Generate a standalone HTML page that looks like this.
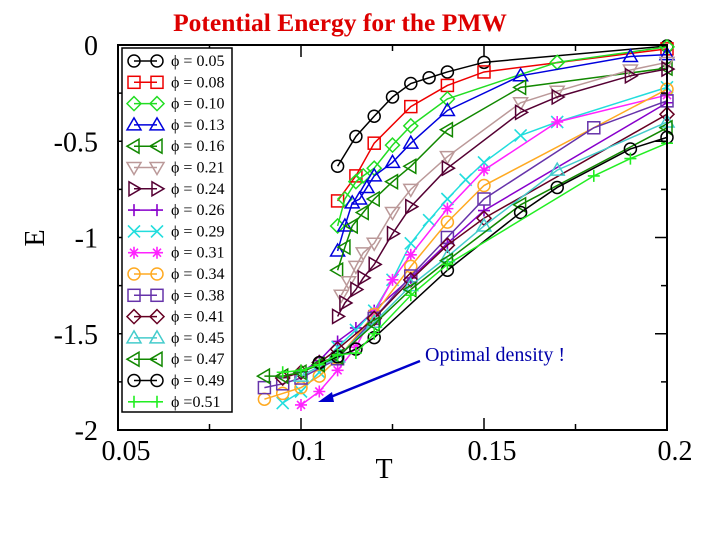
<!DOCTYPE html>
<html><head><meta charset="utf-8"><style>
body{margin:0;background:#fff;}
svg{display:block;font-family:"Liberation Serif",serif;}
</style></head><body>
<svg id="c" width="720" height="540" viewBox="0 0 720 540"></svg>
<script>
const phis=["0.05","0.08","0.10","0.13","0.16","0.21","0.24","0.26","0.29","0.31","0.34","0.38","0.41","0.45","0.47","0.49","=0.51"];
const colors=["#000","#e00","#2d2","#00d","#180","#b99","#503","#80c","#2dd","#f2f","#fa2","#63a","#602","#4cc","#180","#000","#2e2"];
const markers=["circle","square","diamond","tri-up","tri-left","tri-down","tri-right","plus","x","star","circle","square","diamond","tri-up","tri-left","circle","plus"];
const seriesT=[
[0.11,0.115,0.12,0.125,0.13,0.135,0.14,0.15,0.2],
[0.11,0.115,0.12,0.13,0.14,0.15,0.2],
[0.11,0.112,0.115,0.117,0.12,0.125,0.13,0.14,0.17,0.2],
[0.11,0.112,0.114,0.116,0.118,0.12,0.125,0.13,0.14,0.16,0.19,0.2],
[0.11,0.112,0.114,0.117,0.12,0.125,0.13,0.14,0.16,0.2],
[0.111,0.113,0.115,0.117,0.12,0.125,0.13,0.14,0.16,0.17,0.19,0.2],
[0.11,0.112,0.115,0.117,0.12,0.125,0.13,0.14,0.16,0.17,0.19,0.2],
[0.1,0.105,0.11,0.115,0.12,0.13,0.14,0.15,0.2],
[0.095,0.1,0.105,0.11,0.115,0.12,0.125,0.13,0.135,0.14,0.145,0.15,0.16,0.17,0.2],
[0.1,0.105,0.11,0.115,0.12,0.125,0.13,0.14,0.15,0.17,0.2],
[0.09,0.095,0.1,0.105,0.11,0.12,0.13,0.14,0.15,0.2],
[0.09,0.095,0.1,0.11,0.12,0.13,0.14,0.15,0.18,0.2],
[0.095,0.1,0.105,0.11,0.12,0.13,0.14,0.15,0.2],
[0.1,0.11,0.12,0.13,0.14,0.15,0.17,0.2],
[0.09,0.095,0.1,0.105,0.11,0.12,0.13,0.14,0.16,0.2],
[0.105,0.11,0.115,0.12,0.14,0.16,0.17,0.19,0.2],
[0.095,0.1,0.105,0.11,0.115,0.12,0.13,0.14,0.18,0.19,0.2]];
const seriesE=[
[-0.63,-0.475,-0.37,-0.27,-0.2,-0.17,-0.14,-0.09,-0.005],
[-0.81,-0.68,-0.51,-0.32,-0.21,-0.14,-0.02],
[-0.94,-0.80,-0.71,-0.68,-0.64,-0.52,-0.42,-0.28,-0.09,-0.01],
[-1.07,-0.94,-0.82,-0.80,-0.74,-0.68,-0.61,-0.51,-0.34,-0.16,-0.06,-0.05],
[-1.17,-1.05,-0.94,-0.87,-0.80,-0.71,-0.63,-0.44,-0.22,-0.12,-0.12,-0.11],
[-1.30,-1.23,-1.15,-1.08,-1.03,-0.87,-0.75,-0.58,-0.30,-0.24,-0.13,-0.09],
[-1.41,-1.34,-1.27,-1.21,-1.14,-0.98,-0.84,-0.64,-0.35,-0.27,-0.16,-0.125],
[-1.70,-1.64,-1.54,-1.47,-1.38,-1.21,-1.03,-0.86,-0.30],
[-1.86,-1.80,-1.70,-1.57,-1.48,-1.38,-1.22,-1.03,-0.91,-0.80,-0.70,-0.61,-0.47,-0.40,-0.22],
[-1.87,-1.80,-1.69,-1.57,-1.39,-1.22,-1.09,-0.85,-0.65,-0.40,-0.26],
[-1.84,-1.81,-1.78,-1.72,-1.63,-1.40,-1.15,-0.92,-0.73,-0.23],
[-1.78,-1.76,-1.73,-1.63,-1.42,-1.20,-1.0,-0.80,-0.43,-0.29],
[-1.73,-1.70,-1.65,-1.58,-1.42,-1.22,-1.04,-0.90,-0.36],
[-1.72,-1.62,-1.44,-1.25,-1.10,-0.94,-0.65,-0.40],
[-1.72,-1.72,-1.70,-1.66,-1.62,-1.45,-1.27,-1.12,-0.83,-0.43],
[-1.65,-1.62,-1.58,-1.52,-1.17,-0.87,-0.74,-0.54,-0.48],
[-1.70,-1.69,-1.66,-1.61,-1.60,-1.50,-1.30,-1.14,-0.68,-0.59,-0.51]];
const xTicks=[0.05,0.1,0.15,0.2];
const xTickLabels=["0.05","0.1","0.15","0.2"];
const yTicks=[0,-0.5,-1,-1.5,-2];
const yTickLabels=["0","-0.5","-1","-1.5","-2"];

const L=118,R=667,T0=45,B=430;
const X=t=>L+(t-0.05)/0.15*(R-L);
const Y=e=>T0+(0-e)/2*(B-T0);
const svg=document.getElementById('c');
const NS='http://www.w3.org/2000/svg';
function mk(tag,attrs,parent){const el=document.createElementNS(NS,tag);for(const k in attrs)el.setAttribute(k,attrs[k]);(parent||svg).appendChild(el);return el;}

function marker(g,type,x,y,col){
  const s=6;let el;
  const p=pts=>mk('polygon',{points:pts.map(a=>a.join(',')).join(' '),fill:'none',stroke:col,'stroke-width':1.5},g);
  if(type==='circle')el=mk('circle',{cx:x,cy:y,r:s,fill:'none',stroke:col,'stroke-width':1.5},g);
  else if(type==='square')el=mk('rect',{x:x-s,y:y-s,width:2*s,height:2*s,fill:'none',stroke:col,'stroke-width':1.5},g);
  else if(type==='diamond')el=p([[x,y-s-1],[x+s+1,y],[x,y+s+1],[x-s-1,y]]);
  else if(type==='tri-up')el=p([[x,y-s-1],[x+s+1,y+s-1],[x-s-1,y+s-1]]);
  else if(type==='tri-down')el=p([[x,y+s+1],[x+s+1,y-s+1],[x-s-1,y-s+1]]);
  else if(type==='tri-left')el=p([[x-s-1,y],[x+s-1,y-s-1],[x+s-1,y+s+1]]);
  else if(type==='tri-right')el=p([[x+s+1,y],[x-s+1,y-s-1],[x-s+1,y+s+1]]);
  else {
    const d=type==='plus'?`M${x-s},${y}H${x+s}M${x},${y-s}V${y+s}`:
      type==='x'?`M${x-s},${y-s}L${x+s},${y+s}M${x-s},${y+s}L${x+s},${y-s}`:
      `M${x-s},${y}H${x+s}M${x},${y-s}V${y+s}M${x-4},${y-4}L${x+4},${y+4}M${x-4},${y+4}L${x+4},${y-4}`;
    el=mk('path',{d:d,fill:'none',stroke:col,'stroke-width':1.6},g);
  }
  
  
}

// title
const title=mk('text',{x:340,y:31,'text-anchor':'middle','font-size':25.5,'font-weight':'bold',fill:'#d00'});
title.textContent='Potential Energy for the PMW';



// series
seriesT.forEach((ts,i)=>{
  const g=mk('g',{});
  
  
  mk('polyline',{points:ts.map((t,j)=>X(t)+','+Y(seriesE[i][j])).join(' '),fill:'none',stroke:colors[i],'stroke-width':1.5},g);
  ts.forEach((t,j)=>marker(g,markers[i],X(t),Y(seriesE[i][j]),colors[i]));
});

// frame
const fr=mk('rect',{x:L,y:T0,width:R-L,height:B-T0,fill:'none',stroke:'#000','stroke-width':2});


// ticks
xTicks.forEach((t,i)=>{
  const x=X(t);
  mk('line',{x1:x,y1:B,x2:x,y2:B-12,stroke:'#000','stroke-width':1.5});
  mk('line',{x1:x,y1:T0,x2:x,y2:T0+12,stroke:'#000','stroke-width':1.5});
  if(i<xTicks.length-1){const xm=X(t+0.025);
    mk('line',{x1:xm,y1:B,x2:xm,y2:B-6,stroke:'#000','stroke-width':1.5});
    mk('line',{x1:xm,y1:T0,x2:xm,y2:T0+6,stroke:'#000','stroke-width':1.5});}
  const tx=mk('text',{x:x+8,y:B+30,'text-anchor':'middle','font-size':28});
  tx.textContent=xTickLabels[i];
  
  
});
yTicks.forEach((e,i)=>{
  const y=Y(e);
  mk('line',{x1:L,y1:y,x2:L+12,y2:y,stroke:'#000','stroke-width':1.5});
  mk('line',{x1:R,y1:y,x2:R-12,y2:y,stroke:'#000','stroke-width':1.5});
  if(i<yTicks.length-1){const ym=Y(e-0.25);
    mk('line',{x1:L,y1:ym,x2:L+6,y2:ym,stroke:'#000','stroke-width':1.5});
    mk('line',{x1:R,y1:ym,x2:R-6,y2:ym,stroke:'#000','stroke-width':1.5});}
  const tx=mk('text',{x:L-20,y:y+10,'text-anchor':'end','font-size':28});
  tx.textContent=yTickLabels[i];
  
  
});
const xt=mk('text',{x:384,y:478,'text-anchor':'middle','font-size':28});
xt.textContent='T';


const yt=mk('text',{x:0,y:0,'text-anchor':'middle','font-size':28,transform:'translate(44,238) rotate(-90)'});
yt.textContent='E';



// legend
const lg=mk('g',{});


mk('rect',{x:122,y:48,width:110,height:364,fill:'#fff',stroke:'#000','stroke-width':1.5},lg);
phis.forEach((p,i)=>{
  const y=61+i*21.3;
  const g=mk('g',{},lg);
  
  
  mk('line',{x1:134,y1:y,x2:157,y2:y,stroke:colors[i],'stroke-width':1.5},g);
  marker(g,markers[i],134,y,colors[i]);
  marker(g,markers[i],157,y,colors[i]);
  const t=mk('text',{x:171,y:y+5,'font-size':16},g);
  t.textContent='\u03d5 '+(p[0]==='='?p:'= '+p);
});

// annotation
const ag=mk('g',{});


const at=mk('text',{x:425,y:361,'font-size':20,fill:'#00a'},ag);
at.textContent='Optimal density !';
mk('line',{x1:420,y1:361,x2:328,y2:398,stroke:'#00c','stroke-width':2.5},ag);
mk('polygon',{points:'318,402 332,392 334,402',fill:'#00c'},ag);
</script>
</body></html>
